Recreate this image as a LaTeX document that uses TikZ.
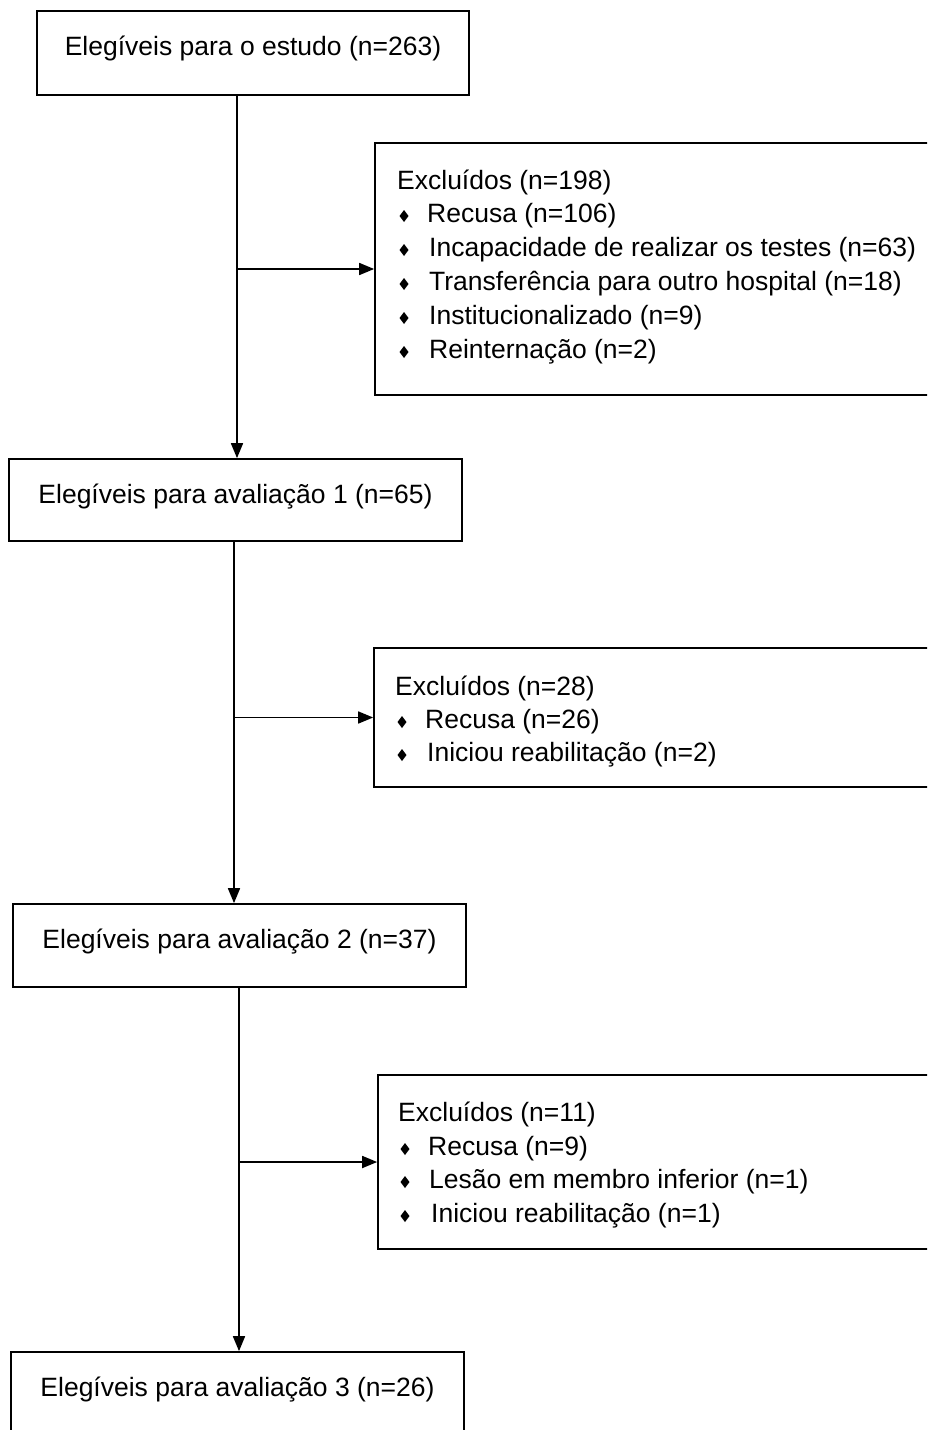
\documentclass[tikz,border=0pt]{standalone}
\usepackage{fontspec}
\setmainfont{Liberation Sans}
\usetikzlibrary{arrows.meta}
\begin{document}
\begin{tikzpicture}[x=1pt,y=-1pt,
  box/.style={draw,line width=1.7pt,rectangle,inner sep=0pt},
  txt/.style={anchor=base west,inner sep=0pt,font=\fontsize{26.5}{30}\selectfont},
  htxt/.style={anchor=base,inner sep=0pt,font=\fontsize{26.5}{30}\selectfont},
  arr/.style={line width=1.7pt,-{Triangle[length=15pt,width=12pt]}},
  bul/.pic={\fill (-4.5,0)--(0,-6)--(4.5,0)--(0,6)--cycle;}
]
\useasboundingbox (0,0) rectangle (927,1430);
\clip (0,0) rectangle (927,1430);
\fill[white] (0,0) rectangle (927,1430);

% main boxes
\node[box,minimum width=432,minimum height=84] (b1) at (253,53) {};
\node[htxt] (b1t) at (253,55) {Elegíveis para o estudo (n=263)};
\node[box,minimum width=453,minimum height=82] (b2) at (235.5,500) {};
\node[htxt] (b2t) at (235.5,503) {Elegíveis para avaliação 1 (n=65)};
\node[box,minimum width=453,minimum height=83] (b3) at (239.5,945.5) {};
\node[htxt] (b3t) at (239.5,948) {Elegíveis para avaliação 2 (n=37)};
\node[box,minimum width=453,minimum height=83] (b4) at (237.5,1393.5) {};
\node[htxt] (b4t) at (237.5,1396) {Elegíveis para avaliação 3 (n=26)};

% exclusion boxes
\node[box,minimum width=585,minimum height=252] (e1) at (667.5,269) {};
\node[txt] (e1h) at (397,189) {Excluídos (n=198)};
\pic at (404,216) {bul}; \node[txt] (e1a) at (427,222) {Recusa (n=106)};
\pic at (404,250) {bul}; \node[txt] (e1b) at (429,256) {Incapacidade de realizar os testes (n=63)};
\pic at (404,284) {bul}; \node[txt] (e1c) at (429,290) {Transferência para outro hospital (n=18)};
\pic at (404,318) {bul}; \node[txt] (e1d) at (429,324) {Institucionalizado (n=9)};
\pic at (404,352) {bul}; \node[txt] (e1e) at (429,358) {Reinternação (n=2)};

\node[box,minimum width=590,minimum height=139] (e2) at (669,717.5) {};
\node[txt] (e2h) at (395,695) {Excluídos (n=28)};
\pic at (402,722) {bul}; \node[txt] (e2a) at (425,728) {Recusa (n=26)};
\pic at (402,755) {bul}; \node[txt] (e2b) at (427,761) {Iniciou reabilitação (n=2)};

\node[box,minimum width=590,minimum height=174] (e3) at (673,1162) {};
\node[txt] (e3h) at (398,1121) {Excluídos (n=11)};
\pic at (405,1149) {bul}; \node[txt] (e3a) at (428,1155) {Recusa (n=9)};
\pic at (405,1182) {bul}; \node[txt] (e3b) at (429,1188) {Lesão em membro inferior (n=1)};
\pic at (405,1216) {bul}; \node[txt] (e3c) at (431,1222) {Iniciou reabilitação (n=1)};

% trunks
\coordinate (t1) at (237,0);
\coordinate (t2) at (234,0);
\coordinate (t3) at (239,0);
\draw[arr] (b1.south -| t1) -- (b2.north -| t1);
\draw[arr] (b2.south -| t2) -- (b3.north -| t2);
\draw[arr] (b3.south -| t3) -- (b4.north -| t3);
% branches
\coordinate (j1) at (e1.west -| t1);
\coordinate (j2) at (e2.west -| t2);
\coordinate (j3) at (e3.west -| t3);
\draw[arr] (j1) -- (e1.west);
\draw[arr] (j2) -- (e2.west);
\draw[arr] (j3) -- (e3.west);
\end{tikzpicture}
\end{document}
